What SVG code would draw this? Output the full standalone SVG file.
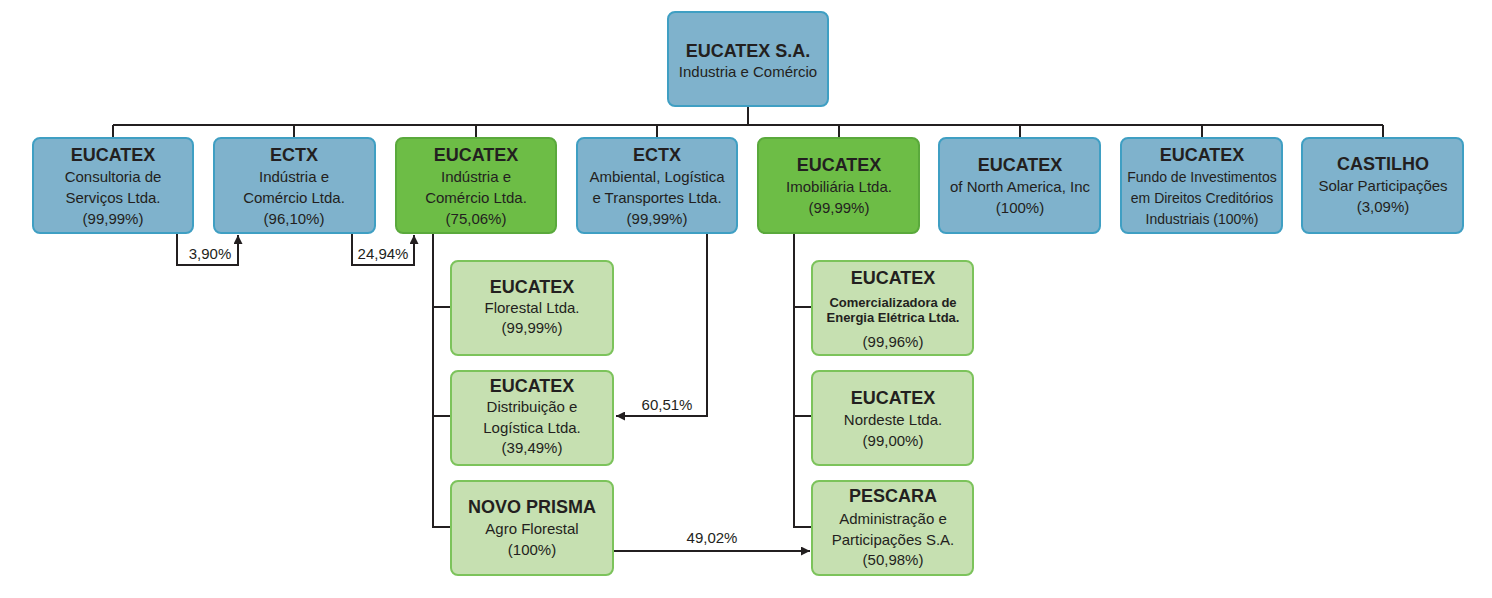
<svg xmlns="http://www.w3.org/2000/svg" width="1492" height="598" viewBox="0 0 1492 598">
<style>
.blue{fill:#7fb2cc;stroke:#3f9fc3;stroke-width:2}
.dg{fill:#6dbd46;stroke:#5aa93c;stroke-width:2}
.lg{fill:#c6e0b1;stroke:#7cc35b;stroke-width:2}
text{font-family:"Liberation Sans",Arial,sans-serif;fill:#231f20;text-anchor:middle}
.t{font-weight:bold;font-size:18px}
.r{font-size:15px}
.s{font-size:14px}
.m{font-size:13px;font-weight:bold}
.ln{fill:none;stroke:#231f20;stroke-width:2}
</style>
<defs>
<marker id="ah" viewBox="0 0 10 10" refX="10" refY="5" markerWidth="9" markerHeight="9" markerUnits="userSpaceOnUse" orient="auto">
<path d="M0,0 L10,5 L0,10 z" fill="#231f20"/>
</marker>
</defs>
<g id="connectors">
<path class="ln" d="M748,106 V125 M113,125 H1383 M113,125 V138 M294,125 V138 M476,125 V138 M657,125 V138 M839,125 V138 M1020,125 V138 M1202,125 V138 M1383,125 V138"/>
<path class="ln" d="M177,233 V265 H238 V235" marker-end="url(#ah)"/>
<path class="ln" d="M352,233 V265 H414 V235" marker-end="url(#ah)"/>
<path class="ln" d="M433,233 V527 H451 M433,307 H451 M433,416 H451"/>
<path class="ln" d="M707,233 V416 H616" marker-end="url(#ah)"/>
<path class="ln" d="M794,233 V527 H812 M794,307 H812 M794,416 H812"/>
<path class="ln" d="M613,551 H810" marker-end="url(#ah)"/>
<text class="r" x="210" y="259">3,90%</text>
<text class="r" x="383" y="259">24,94%</text>
<text class="r" x="667" y="410">60,51%</text>
<text class="r" x="712" y="543">49,02%</text>
</g>
<g id="n-top">
<rect class="blue" x="668" y="12" width="160" height="94" rx="7"/>
<text class="t" x="748" y="57">EUCATEX S.A.</text>
<text class="r" x="748" y="77">Industria e Comércio</text>
</g>
<g id="n-consultoria">
<rect class="blue" x="33" y="138" width="160" height="95" rx="7"/>
<text class="t" x="113" y="161">EUCATEX</text>
<text class="r" x="113" y="182">Consultoria de</text>
<text class="r" x="113" y="203">Serviços Ltda.</text>
<text class="r" x="113" y="224">(99,99%)</text>
</g>
<g id="n-ectx-ind">
<rect class="blue" x="214" y="138" width="161" height="95" rx="7"/>
<text class="t" x="294" y="161">ECTX</text>
<text class="r" x="294" y="182">Indústria e</text>
<text class="r" x="294" y="203">Comércio Ltda.</text>
<text class="r" x="294" y="224">(96,10%)</text>
</g>
<g id="n-eucatex-ind">
<rect class="dg" x="396" y="138" width="160" height="95" rx="7"/>
<text class="t" x="476" y="161">EUCATEX</text>
<text class="r" x="476" y="182">Indústria e</text>
<text class="r" x="476" y="203">Comércio Ltda.</text>
<text class="r" x="476" y="224">(75,06%)</text>
</g>
<g id="n-ectx-amb">
<rect class="blue" x="577" y="138" width="160" height="95" rx="7"/>
<text class="t" x="657" y="161">ECTX</text>
<text class="r" x="657" y="182">Ambiental, Logística</text>
<text class="r" x="657" y="203">e Transportes Ltda.</text>
<text class="r" x="657" y="224">(99,99%)</text>
</g>
<g id="n-imob">
<rect class="dg" x="758" y="138" width="161" height="95" rx="7"/>
<text class="t" x="839" y="171">EUCATEX</text>
<text class="r" x="839" y="192">Imobiliária Ltda.</text>
<text class="r" x="839" y="213">(99,99%)</text>
</g>
<g id="n-na">
<rect class="blue" x="939" y="138" width="161" height="95" rx="7"/>
<text class="t" x="1020" y="171">EUCATEX</text>
<text class="r" x="1020" y="192">of North America, Inc</text>
<text class="r" x="1020" y="213">(100%)</text>
</g>
<g id="n-fundo">
<rect class="blue" x="1121" y="138" width="161" height="95" rx="7"/>
<text class="t" x="1202" y="161">EUCATEX</text>
<text class="s" x="1202" y="182">Fundo de Investimentos</text>
<text class="s" x="1202" y="203">em Direitos Creditórios</text>
<text class="s" x="1202" y="224">Industriais (100%)</text>
</g>
<g id="n-castilho">
<rect class="blue" x="1302" y="138" width="161" height="95" rx="7"/>
<text class="t" x="1383" y="170">CASTILHO</text>
<text class="r" x="1383" y="191">Solar Participações</text>
<text class="r" x="1383" y="212">(3,09%)</text>
</g>
<g id="n-florestal">
<rect class="lg" x="451" y="261" width="162" height="94" rx="7"/>
<text class="t" x="532" y="293">EUCATEX</text>
<text class="r" x="532" y="313">Florestal Ltda.</text>
<text class="r" x="532" y="333">(99,99%)</text>
</g>
<g id="n-distrib">
<rect class="lg" x="451" y="371" width="162" height="94" rx="7"/>
<text class="t" x="532" y="392">EUCATEX</text>
<text class="r" x="532" y="412">Distribuição e</text>
<text class="r" x="532" y="433">Logística Ltda.</text>
<text class="r" x="532" y="453">(39,49%)</text>
</g>
<g id="n-novo">
<rect class="lg" x="451" y="481" width="162" height="94" rx="7"/>
<text class="t" x="532" y="513">NOVO PRISMA</text>
<text class="r" x="532" y="534">Agro Florestal</text>
<text class="r" x="532" y="555">(100%)</text>
</g>
<g id="n-comerc">
<rect class="lg" x="812" y="261" width="161" height="94" rx="7"/>
<text class="t" x="893" y="284">EUCATEX</text>
<text class="m" x="893" y="307">Comercializadora de</text>
<text class="m" x="893" y="322">Energia Elétrica Ltda.</text>
<text class="r" x="893" y="347">(99,96%)</text>
</g>
<g id="n-nordeste">
<rect class="lg" x="812" y="371" width="161" height="94" rx="7"/>
<text class="t" x="893" y="404">EUCATEX</text>
<text class="r" x="893" y="425">Nordeste Ltda.</text>
<text class="r" x="893" y="446">(99,00%)</text>
</g>
<g id="n-pescara">
<rect class="lg" x="812" y="481" width="161" height="94" rx="7"/>
<text class="t" x="893" y="502">PESCARA</text>
<text class="r" x="893" y="524">Administração e</text>
<text class="r" x="893" y="545">Participações S.A.</text>
<text class="r" x="893" y="565">(50,98%)</text>
</g>
</svg>
